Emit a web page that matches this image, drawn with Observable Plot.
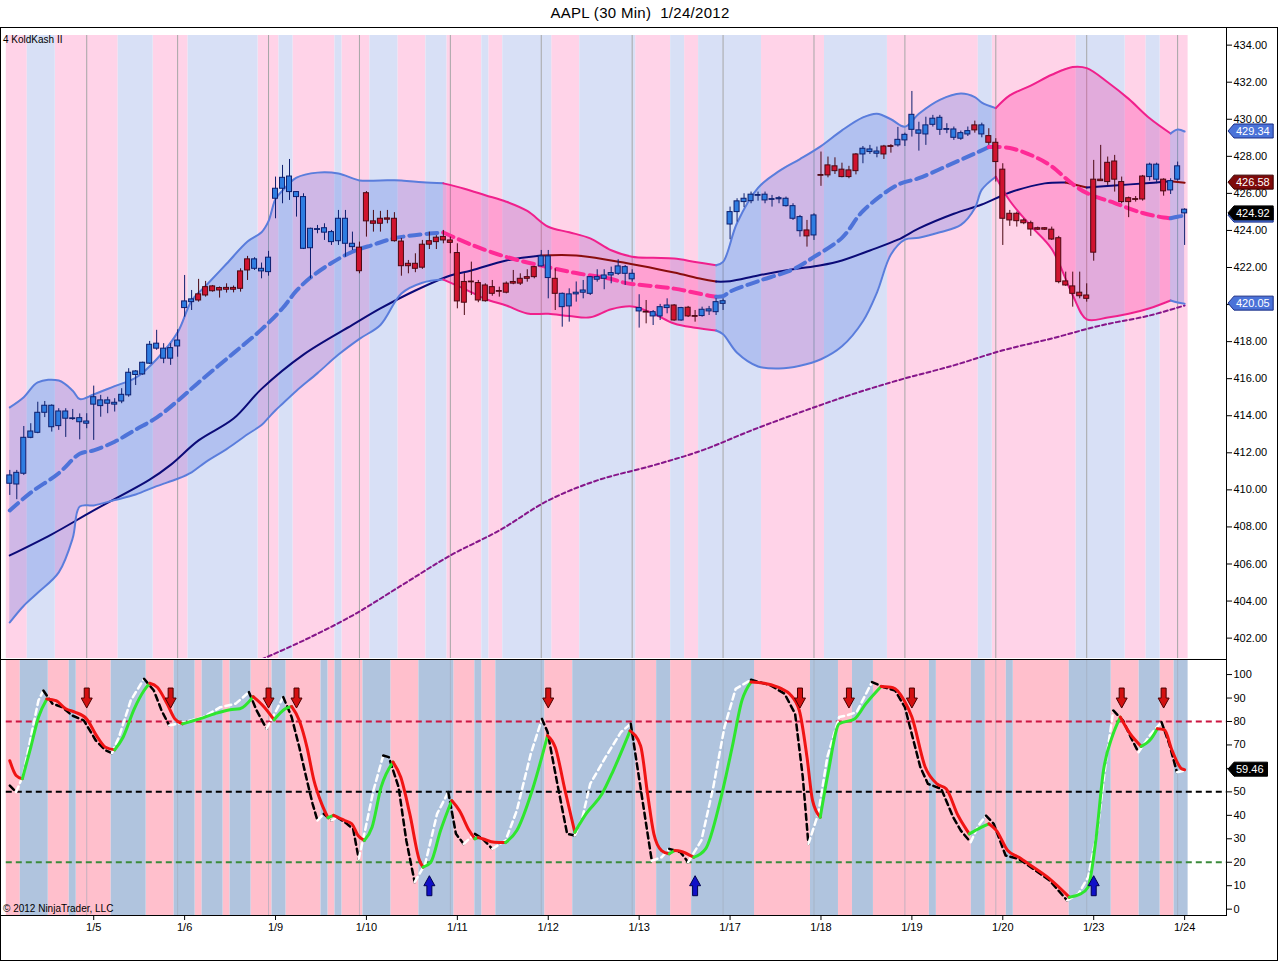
<!DOCTYPE html>
<html>
<head>
<meta charset="utf-8">
<script src="https://cdn.jsdelivr.net/npm/d3@7"></script>
<script src="https://cdn.jsdelivr.net/npm/@observablehq/plot@0.6"></script>
<style>
  html, body { margin: 0; padding: 0; background: #fff; }
  #chart { position: relative; width: 1280px; height: 961px; background: #fff; overflow: hidden;
           font-family: 'Liberation Sans', Arial, Helvetica, sans-serif; }
  .abs { position: absolute; }
  .line { position: absolute; background: #000; pointer-events: none; }
</style>
</head>
<body>
<div id="chart">
  <div class="abs" id="title" style="top:4px;left:0;width:1280px;text-align:center;font-size:15px;letter-spacing:0.3px;white-space:pre;color:#000">AAPL (30 Min)  1/24/2012</div>
  <div class="abs" id="upper" style="left:0;top:27px"></div>
  <div class="abs" id="lower" style="left:0;top:659px"></div>
  <div class="abs" style="left:0;top:27px;width:1278px;height:934px;border:1px solid #000;box-sizing:border-box;pointer-events:none"></div>
  <div class="line" style="left:1226px;top:27px;width:1px;height:889px"></div>
  <div class="line" style="left:0;top:659px;width:1227px;height:1px"></div>
  <div class="line" style="left:0;top:915px;width:1227px;height:1px"></div>
  <div class="abs" style="left:3px;top:34px;font-size:10px;color:#000">4 KoldKash II</div>
  <div class="abs" style="left:3px;top:903px;font-size:10px;color:#000">© 2012 NinjaTrader, LLC</div>
</div>
<script>
const FONT = "'Liberation Sans', Arial, Helvetica, sans-serif";

// ---------- price bars (30 min, bar 0 = first visible bar of 1/4) ----------
const open = [410.33,410.29,410.87,412.81,413.08,414.16,413.38,413.44,413.84,413.82,
413.65,413.57,414.60,414.52,414.65,414.60,414.77,415.10,416.20,416.23,
416.81,417.62,417.08,417.08,417.74,419.81,420.13,420.55,420.94,420.98,
420.89,420.90,420.90,421.79,422.44,421.93,421.79,421.75,425.71,426.25,
426.07,425.80,423.01,423.04,424.03,423.88,423.37,423.42,423.28,423.10,
423.07,426.01,424.49,424.63,424.65,424.63,423.40,422.20,422.20,423.23,
423.42,423.61,423.65,423.46,422.78,421.22,421.24,421.16,421.03,420.94,
420.73,421.13,421.22,421.39,421.48,422.02,422.06,421.43,421.39,419.86,
419.90,420.55,420.64,420.58,421.34,421.39,421.57,421.66,421.66,421.36,
419.63,419.61,419.36,419.36,419.81,419.95,419.14,419.83,419.38,419.38,
419.63,419.59,420.04,424.32,424.99,425.53,425.58,425.87,425.62,425.65,
425.68,425.31,424.63,423.96,424.00,423.73,426.99,427.51,427.46,427.28,
427.24,428.10,428.10,428.23,428.14,428.53,428.55,428.59,428.86,429.43,
429.22,429.18,429.70,429.43,429.43,429.00,428.95,429.18,429.67,429.18,
429.09,428.73,427.28,424.90,424.90,424.54,424.39,424.12,424.12,424.04,
423.58,421.25,420.98,420.64,420.49,426.74,426.74,427.65,427.72,426.61,
425.74,425.69,426.91,426.88,426.74,426.74,426.16,426.74,425.12];
const high = [411.05,411.05,413.42,413.57,414.73,414.77,414.59,414.38,414.38,414.34,
414.10,414.11,415.60,415.10,415.00,414.92,415.46,416.54,416.44,416.89,
418.01,418.61,417.89,417.89,418.64,421.57,420.76,421.36,421.25,421.03,
420.95,421.12,421.00,421.93,422.60,422.53,422.24,422.87,426.88,427.51,
427.83,426.10,425.98,424.12,424.27,424.36,424.00,425.08,425.08,423.91,
423.37,426.10,425.08,425.03,425.08,424.96,423.57,422.38,422.74,423.46,
423.91,423.72,424.00,423.64,423.28,421.67,422.29,421.30,421.12,421.30,
420.94,421.22,421.84,421.66,421.88,422.06,422.92,422.92,421.93,420.62,
420.85,421.22,421.30,421.52,421.88,421.88,422.02,422.42,422.11,421.88,
420.53,420.22,419.68,420.01,420.31,420.00,419.85,419.90,419.68,419.86,
419.90,420.31,420.31,425.26,425.71,425.98,426.07,426.07,426.07,425.89,
425.83,425.80,425.44,424.81,424.54,424.90,428.23,427.96,427.92,427.63,
427.46,428.15,428.53,428.59,428.50,428.59,428.63,429.56,429.25,431.50,
429.84,430.11,430.21,430.21,429.76,429.58,429.36,429.58,429.90,429.79,
429.49,428.95,427.60,425.08,424.99,424.63,424.50,424.18,424.15,424.18,
423.68,421.75,421.75,421.75,421.12,427.78,428.59,427.96,428.05,426.88,
425.80,425.83,426.97,427.63,427.63,426.79,426.79,427.69,425.17];
const low = [409.70,409.47,410.78,412.76,413.03,413.90,413.12,413.21,412.83,413.75,
412.70,413.30,412.67,413.92,414.11,414.20,414.65,415.00,415.63,416.18,
416.77,417.53,416.81,416.72,417.16,419.32,419.68,420.13,420.40,420.67,
420.35,420.62,420.63,420.67,421.30,421.84,421.39,421.53,424.63,425.44,
425.62,424.72,422.97,421.39,423.82,423.46,423.19,423.19,422.56,422.92,
421.66,423.64,423.91,423.91,424.36,423.37,421.53,421.66,421.72,421.90,
422.97,422.97,423.28,422.74,419.77,419.41,420.49,420.10,420.13,420.45,
420.40,420.58,421.07,421.03,421.21,421.39,422.02,420.31,419.68,418.78,
419.05,420.13,420.31,420.49,421.21,420.80,421.12,421.57,421.03,421.21,
418.73,418.96,418.87,419.14,419.50,419.10,419.10,419.30,419.05,419.32,
419.41,419.41,419.68,423.50,424.45,425.23,425.44,425.58,425.44,425.26,
425.44,425.26,424.54,423.64,423.10,423.46,426.38,426.84,427.02,426.84,
426.79,427.00,427.60,428.10,427.92,427.83,428.17,428.50,428.53,429.04,
428.28,428.59,429.58,429.13,429.22,428.86,428.86,429.07,429.25,429.00,
428.59,426.61,423.19,424.22,424.18,424.31,423.68,424.00,424.00,423.46,
421.12,420.98,419.86,420.31,420.13,422.34,426.66,426.43,426.07,425.44,
424.69,425.53,425.58,426.66,426.52,425.85,425.94,426.66,423.19];
const close = [410.78,410.92,412.81,413.15,414.16,414.54,414.54,414.23,414.23,413.86,
413.87,413.69,415.00,414.83,414.83,414.70,415.13,416.32,416.39,416.86,
417.83,417.89,417.62,417.65,418.06,420.17,420.28,420.22,420.49,420.72,
420.76,420.80,420.80,420.85,421.84,422.44,421.93,422.53,426.25,426.84,
426.91,426.07,425.80,424.09,424.07,424.12,423.91,424.63,424.63,423.28,
421.80,424.49,424.36,424.36,424.58,423.42,422.07,422.07,421.93,421.99,
423.23,423.37,423.46,423.33,420.17,420.10,421.20,420.22,420.18,420.58,
420.69,420.64,421.13,421.13,421.39,421.48,422.60,422.60,420.58,420.58,
420.55,420.64,420.76,421.48,421.48,421.57,421.70,422.06,422.02,421.66,
419.81,419.57,419.59,419.86,419.95,419.14,419.81,419.36,419.34,419.72,
419.74,420.13,420.18,424.99,425.57,425.71,425.93,425.91,425.93,425.69,
425.74,425.71,425.31,424.72,423.68,424.81,426.95,426.97,427.20,426.88,
426.88,427.20,428.41,428.37,428.26,428.10,428.51,428.89,429.16,430.24,
429.40,429.67,430.03,430.08,429.47,429.45,429.25,429.36,429.40,429.67,
428.73,427.69,424.63,424.54,424.50,424.39,424.05,424.04,424.04,423.51,
421.21,421.03,420.58,420.45,420.31,422.80,426.66,426.61,426.74,425.53,
425.53,425.65,425.67,427.55,427.55,426.11,426.66,427.46,424.92];
// candle colouring runs (length, state)
const candleColorRuns = [[27,"up"],[8,"down"],[15,"up"],[26,"down"],[2,"up"],[1,"down"],[12,"up"],[1,"down"],
[3,"up"],[1,"down"],[1,"up"],[2,"down"],[15,"up"],[1,"down"],[1,"up"],[6,"down"],[3,"up"],[2,"down"],
[11,"up"],[1,"down"],[1,"up"],[23,"down"],[2,"up"],[1,"down"],[3,"up"]];

// ---------- sessions / x labels ----------
const dayLabels = ["1/5","1/6","1/9","1/10","1/11","1/12","1/13","1/17","1/18","1/19","1/20","1/23","1/24"];
const dayFirstBars = [12,25,38,51,64,77,90,103,116,129,142,155,168];

// ---------- background colouring (run lengths, alternating starting with pink) ----------
const upperStripeRuns = [3,4,9,5,5,10,3,2,6,1,4,4,4,3,5,1,2,7,4,8,5,2,2,9,9,9,13,2,12,7,3,2,4];
const lowerStripeRuns = [2,4,3,1,5,5,4,3,1,3,1,3,3,2,5,1,1,1,3,4,4,5,3,1,2,7,4,9,3,2,3,9,8,4,2,3,8,1,5,2,3,1,8,6,4,3,2,2];

// ---------- Bollinger bands ----------
const bandBars = [0,2,4,7,9,10,12,15,18,21,24,26,28,31,34,36,37,38,39,41,44,47,50,53,56,59,62,65,68,71,
74,77,80,83,86,89,92,95,98,101,102,104,107,110,113,116,119,122,124,126,128,130,133,136,138,139,141,143,146,149,
152,154,157,160,163,166,167,168];
const upperBand = [414.45,415.0,415.8,415.9,415.35,414.9,415.15,415.6,416.05,417.05,418.5,420.2,421.0,422.2,423.4,423.9,424.5,425.7,426.15,426.85,
427.12,427.07,426.7,426.7,426.7,426.6,426.54,426.25,425.9,425.55,425.05,424.2,423.9,423.57,422.93,422.58,422.52,422.48,422.3,422.12,
422.3,424.4,426.3,427.2,427.85,428.55,429.4,430.1,430.3,430.0,429.6,430.3,431.05,431.39,431.2,430.9,430.6,431.29,431.82,432.4,
432.82,432.76,432.0,431.1,430.05,429.23,429.45,429.34];
const lowerBand = [402.85,403.75,404.45,405.55,407.4,409.1,409.16,409.45,409.75,410.2,410.6,410.95,411.5,412.2,413.0,413.5,413.9,414.3,414.65,415.35,
416.3,417.3,418.15,418.9,420.6,421.18,421.35,420.85,420.3,419.95,419.52,419.5,419.38,419.31,419.75,419.9,419.52,418.98,418.75,418.6,
418.4,417.4,416.66,416.55,416.7,417.05,417.75,419.1,420.65,422.7,423.5,423.6,423.9,424.3,425.2,426.2,426.9,425.6,424.25,423.0,
420.5,419.2,419.3,419.5,419.8,420.22,420.11,420.05];
const midBars = [0,3,7,10,12,15,18,21,24,27,32,36,39,41,43,46,49,52,55,60,62,66,71,76,81,86,88,95,100,101,
102,103,107,112,115,119,122,127,130,134,138,140,143,147,149,152,154,158,162,165,166,167,168];
const midBand = [408.89,409.85,410.9,411.95,412.13,412.6,413.25,413.9,414.8,415.8,417.38,418.66,419.8,420.75,421.46,422.24,422.85,423.23,423.58,423.83,
423.89,423.23,422.57,422.1,421.7,421.38,421.17,420.86,420.48,420.42,420.45,420.7,421.26,421.9,422.57,423.6,425.05,426.47,426.82,427.48,
428.15,428.5,428.45,427.9,427.45,426.5,426.02,425.48,424.94,424.70,424.66,424.74,424.80];
// band trend: segments ending at or before each bar take the listed direction
const trendEndBars = [62, 101, 141, 166, 168];
const trendDirs = ["up", "down", "up", "down", "up"];

// ---------- moving averages ----------
const smaBars = [0,6,12,20,23,27,32,36,42,49,53,58,63,66,71,76,81,86,90,95,99,101,103,107,112,116,119,123,127,130,135,139,143,148,151,154,158,163,166,168];
const sma = [406.46,407.6,408.89,410.55,411.35,412.67,413.85,415.45,417.3,418.9,419.79,420.76,421.57,421.84,422.38,422.65,422.65,422.38,422.11,421.73,
421.38,421.24,421.26,421.57,421.9,422.12,422.38,422.92,423.5,424.11,424.9,425.4,426.05,426.54,426.59,426.32,426.43,426.56,426.66,426.58];
const sma200Bars = [36,42,49,56,63,70,77,84,92,99,106,113,120,127,135,142,149,156,163,168];
const sma200 = [400.85,401.87,403.22,404.84,406.46,407.81,409.43,410.51,411.32,412.13,413.20,414.18,415.10,415.91,416.72,417.53,418.17,418.87,419.41,419.95];

// ---------- oscillator ----------
const kBars = [0,0.9,1.8,3.0,4.1,5.3,6.6,8.0,9.3,11.0,12.4,13.7,15.0,16.2,17.8,19.2,20.0,21.1,22.5,23.6,
24.7,27.1,29.3,31.5,32.9,34.8,36.4,37.8,39.4,40.3,41.4,42.5,43.5,44.6,45.5,46.3,47.0,47.9,48.9,49.8,
50.7,51.8,53.1,54.8,55.9,57.2,58.6,59.1,60.2,61.6,63.2,64.3,65.7,66.5,67.0,67.6,69.3,70.9,72.5,74.7,
76.9,78.0,79.4,80.8,82.4,84.7,86.3,88.7,90.2,91.2,92.1,93.2,94.3,95.1,95.9,97.8,99.5,101.6,103.3,104.7,
106.0,108.2,110.4,111.5,112.9,114.0,114.8,115.9,117.0,118.6,120.8,122.4,124.6,126.3,127.9,129.0,130.9,132.6,133.9,135.6,
137.2,138.9,140.0,141.1,142.7,144.3,146.0,148.7,151.5,153.1,154.2,155.3,156.4,157.7,158.8,160.2,161.8,163.2,164.1,165.1,
166.2,167.6,168];
const kVals = [63.3,57.0,55.6,69.0,81.8,89.6,88.9,85.4,84.0,81.1,74.0,69.0,67.9,73.3,85.4,93.2,96.3,94.6,87.5,81.1,
79.0,81.1,83.3,85.0,85.4,90.6,86.1,80.7,85.4,86.4,80.4,69.0,54.8,44.9,39.0,40.0,39.0,37.8,36.4,31.4,
29.3,34.9,52.0,62.7,56.3,40.6,20.7,17.9,20.0,33.5,46.3,42.0,33.5,30.0,30.5,30.0,28.5,28.4,33.5,50.6,
74.0,69.0,50.6,32.8,40.6,49.2,59.1,76.0,69.7,49.2,32.1,25.0,23.6,25.0,24.7,22.1,25.7,46.3,69.0,89.0,
96.8,96.1,93.9,91.8,84.7,64.8,46.3,39.2,57.7,79.0,81.1,87.5,94.9,94.4,89.0,81.9,60.6,53.4,51.3,39.9,
32.1,34.9,36.4,33.5,25.0,22.1,18.6,12.9,5.1,6.5,9.4,29.3,59.1,74.0,81.9,74.8,69.4,72.6,76.9,76.5,
67.7,59.8,59.46];
const dBars = [0,0.9,1.9,3.0,4.1,4.8,6.1,7.5,8.9,10.6,12.3,13.7,14.6,15.6,17.3,19.2,20.6,21.7,22.8,25.0,
27.7,30.1,32.3,34.2,35.3,36.7,38.1,39.1,40.3,41.4,42.5,43.3,44.0,44.9,46.0,46.8,48.2,49.1,49.9,50.9,
52.0,53.4,54.2,55.6,56.7,57.9,59.4,61.1,62.7,63.8,64.9,66.5,67.6,69.0,70.9,72.5,74.5,76.1,76.9,78.3,
79.7,80.8,81.9,83.0,85.2,87.4,88.8,89.6,90.7,91.8,93.2,94.3,95.9,97.0,98.9,100.6,102.2,103.8,106.0,108.8,
110.8,112.3,113.4,114.2,115.6,116.9,118.6,119.7,121.1,123.3,125.0,126.6,128.0,129.1,130.2,131.3,133.2,134.9,136.0,137.4,
138.5,139.6,140.7,142.4,144.3,146.0,148.7,151.2,152.8,154.2,155.6,156.7,157.8,159.2,160.3,161.4,163.0,164.7,165.8,166.9,168];
const dVals = [52.7,49.9,57.0,73.3,89.0,93.2,87.6,86.1,82.6,80.4,71.9,67.7,66.5,73.3,89.0,98.2,93.2,84.7,78.3,79.7,
81.9,86.1,87.6,92.5,84.7,76.9,84.7,90.4,81.9,69.0,54.8,44.9,37.8,40.6,37.8,39.2,36.4,34.2,21.4,34.9,
50.6,65.5,64.8,52.0,29.3,11.5,19.3,40.6,49.9,32.1,27.8,32.1,30.0,25.7,29.3,42.0,66.2,81.1,75.5,53.4,
32.1,31.4,39.2,53.4,64.8,75.5,79.0,63.4,42.0,20.7,22.1,25.7,24.3,20.0,29.3,52.0,77.6,93.9,97.8,95.4,
91.8,83.3,56.3,27.8,40.6,64.8,81.9,82.6,84.0,96.8,94.6,93.2,86.1,73.3,60.6,53.4,51.3,39.2,33.5,28.5,
35.6,39.9,36.4,22.9,21.4,17.9,12.2,3.7,6.5,13.6,34.9,61.9,84.7,80.4,73.3,66.9,74.0,79.7,70.5,58.4,59.0];
const oscLevels = [80, 50, 20];
const sellArrowBars = [11,23,37,41,77,113,120,129,159,165];
const buyArrowBars = [60,98,155];
const sellArrowLevel = 90;
const buyArrowLevel = 10;
const priceTicks = d3.range(402, 435, 2);
const oscTicks = d3.range(0, 101, 10);

// ---------- colours ----------
const C = {
  upPink: "#ffd3e8", upLav: "#d8e0f6",
  loPink: "#ffbfcc", loBlue: "#b0c4de",
  grid: "#a6a6a6",
  bandBlue: "#5a7ddc", bandPink: "#f0208c",
  fillBlue: "rgba(70,105,225,0.26)", fillPink: "rgba(255,20,147,0.26)",
  midBlue: "#4e73d9", midPink: "#ff2a96",
  navy: "#0b0b78", maroon: "#8a0d0d", purple: "#86168a",
  candleUp: "#2f7de1", candleUpLine: "#0d1f6e", candleDn: "#d0142f", candleDnLine: "#4a0812",
  kUp: "#2ee62e", kDn: "#f01414"
};

// ---------- helpers ----------
const X_DOMAIN = [-0.5, 173.99];
function trendOf(bar) { for (let k = 0; k < trendEndBars.length; k++) if (bar <= trendEndBars[k]) return trendDirs[k]; return trendDirs[trendDirs.length - 1]; }
function runsBy(bars, colorAt, rowAt) {
  const runs = [];
  for (let k = 1; k < bars.length; k++) {
    const c = colorAt(k);
    const last = runs[runs.length - 1];
    if (last && last.c === c) last.rows.push(rowAt(k));
    else runs.push({c, rows: [rowAt(k - 1), rowAt(k)]});
  }
  return runs;
}
function stripes(lengths, a, b) {
  const rows = []; let s = 0;
  lengths.forEach((n, k) => { rows.push({x1: s - 0.5, x2: s + n - 0.5, fill: k % 2 ? b : a}); s += n; });
  return rows;
}
const candleDir = [];
candleColorRuns.forEach(([n, d]) => { for (let k = 0; k < n; k++) candleDir.push(d); });
const bars = open.map((o, k) => ({i: k, open: o, high: high[k], low: low[k], close: close[k], dir: candleDir[k]}));
const breakBars = dayFirstBars.map(b => b - 1);

function tagMark(tags) {
  return (index, scales, values, dimensions) => {
    const g = d3.create("svg:g").attr("font-family", FONT).attr("font-size", 11).attr("text-anchor", "start");
    const x0 = dimensions.width - dimensions.marginRight;
    for (const t of tags) {
      const y = scales.y(t.value);
      const label = t.value.toFixed(2);
      const w = label.length * 5.7 + 5;
      g.append("path")
        .attr("d", `M${x0 + 2},${y} L${x0 + 8},${y - 7} H${x0 + 8 + w} V${y + 7} H${x0 + 8} Z`)
        .attr("fill", t.fill).attr("stroke", t.stroke).attr("stroke-width", 1);
      g.append("text").attr("x", x0 + 10).attr("y", y).attr("dy", "0.36em")
        .attr("text-anchor", "start").attr("fill", "#fff").text(label);
    }
    return g.node();
  };
}
// a tick label that sits right under a value tag is hidden by it in the original
function hiddenBy(tagValues, tol) { return v => tagValues.some(t => Math.abs(t - v) < tol); }

// ---------- upper panel ----------
const upStripes = stripes(upperStripeRuns, C.upPink, C.upLav);
const bandRuns = runsBy(bandBars, k => trendOf(bandBars[k]), k => ({i: bandBars[k], lo: lowerBand[k], hi: upperBand[k]}));
const midRuns = runsBy(midBars, k => trendOf(midBars[k]), k => ({i: midBars[k], v: midBand[k]}));
const smaRuns = runsBy(smaBars, k => sma[k] > sma[k - 1] ? "up" : "down", k => ({i: smaBars[k], v: sma[k]}));
const sma200Rows = sma200Bars.map((b, k) => ({i: b, v: sma200[k]}));
const upperTags = [
  {value: upperBand[upperBand.length - 1], fill: "#4a72d8", stroke: "#1b2f86"},
  {value: sma[sma.length - 1], fill: "#7e0a0a", stroke: "#3a0000"},
  {value: midBand[midBand.length - 1], fill: "#4a72d8", stroke: "#1b2f86"},
  {value: close[close.length - 1], fill: "#000", stroke: "#000"},
  {value: lowerBand[lowerBand.length - 1], fill: "#4a72d8", stroke: "#1b2f86"}
];
const upperHidden = hiddenBy(upperTags.map(t => t.value), 0.4);

const upper = Plot.plot({
  width: 1280, height: 632,
  marginTop: 8, marginBottom: 1, marginLeft: 5.8, marginRight: 54,
  x: {domain: X_DOMAIN, axis: null},
  y: {domain: [400.9, 434.52], label: null},
  style: {fontFamily: FONT, fontSize: "11px", background: "transparent", overflow: "visible", color: "#000"},
  marks: [
    Plot.rect(upStripes.filter(d => d.fill === C.upPink), {x1: "x1", x2: "x2", fill: C.upPink}),
    Plot.rect(upStripes.filter(d => d.fill === C.upLav), {x1: "x1", x2: "x2", fill: C.upLav}),
    Plot.ruleX(breakBars, {stroke: C.grid, strokeWidth: 1}),
    bandRuns.map(r => Plot.areaY(r.rows, {x: "i", y1: "lo", y2: "hi", fill: r.c === "up" ? C.fillBlue : C.fillPink, curve: "catmull-rom"})),
    Plot.line(sma200Rows, {x: "i", y: "v", stroke: C.purple, strokeWidth: 2, strokeDasharray: "4,3", curve: "catmull-rom", clip: true}),
    smaRuns.map(r => Plot.line(r.rows, {x: "i", y: "v", stroke: r.c === "up" ? C.navy : C.maroon, strokeWidth: 2, curve: "catmull-rom"})),
    bandRuns.map(r => Plot.line(r.rows, {x: "i", y: "hi", stroke: r.c === "up" ? C.bandBlue : C.bandPink, strokeWidth: 2, curve: "catmull-rom"})),
    bandRuns.map(r => Plot.line(r.rows, {x: "i", y: "lo", stroke: r.c === "up" ? C.bandBlue : C.bandPink, strokeWidth: 2, curve: "catmull-rom"})),
    midRuns.map(r => Plot.line(r.rows, {x: "i", y: "v", stroke: r.c === "up" ? C.midBlue : C.midPink, strokeWidth: 4, strokeDasharray: "11,6", curve: "catmull-rom"})),
    Plot.ruleX(bars.filter(d => d.dir === "up"), {x: "i", y1: "low", y2: "high", stroke: C.candleUpLine, strokeWidth: 1}),
    Plot.ruleX(bars.filter(d => d.dir === "down"), {x: "i", y1: "low", y2: "high", stroke: C.candleDnLine, strokeWidth: 1}),
    Plot.rect(bars.filter(d => d.dir === "up"), {x1: d => d.i - 0.36, x2: d => d.i + 0.36, y1: "open", y2: "close", fill: C.candleUp, stroke: C.candleUpLine, strokeWidth: 1}),
    Plot.rect(bars.filter(d => d.dir === "down"), {x1: d => d.i - 0.36, x2: d => d.i + 0.36, y1: "open", y2: "close", fill: C.candleDn, stroke: C.candleDnLine, strokeWidth: 1}),
    Plot.axisY(priceTicks, {anchor: "right", tickSize: 5, tickPadding: 2, label: null, fontSize: 11,
      tickFormat: d => upperHidden(d) ? "" : d.toFixed(2)}),
    tagMark(upperTags)
  ]
});
document.getElementById("upper").appendChild(upper);

// ---------- lower panel ----------
const loStripes = stripes(lowerStripeRuns, C.loPink, C.loBlue);
const kRuns = runsBy(kBars, k => kVals[k] >= kVals[k - 1] ? "up" : "down", k => ({i: kBars[k], v: kVals[k]}));
const dRuns = runsBy(dBars, k => dVals[k] >= dVals[k - 1] ? "up" : "down", k => ({i: dBars[k], v: dVals[k]}));
const levelColors = ["#cc1440", "#000", "#3a8a3a"];
const lowerTags = [{value: kVals[kVals.length - 1], fill: "#000", stroke: "#000"}];
const lowerHidden = hiddenBy(lowerTags.map(t => t.value), 3);

const arrowDown = {draw(ctx, size) {
  const s = Math.sqrt(size / Math.PI) / 10;
  ctx.moveTo(-2.5 * s, -10 * s); ctx.lineTo(2.5 * s, -10 * s); ctx.lineTo(2.5 * s, 0);
  ctx.lineTo(5.5 * s, 0); ctx.lineTo(0, 10 * s); ctx.lineTo(-5.5 * s, 0); ctx.lineTo(-2.5 * s, 0); ctx.closePath();
}};
const arrowUp = {draw(ctx, size) {
  const s = Math.sqrt(size / Math.PI) / 10;
  ctx.moveTo(-2.5 * s, 10 * s); ctx.lineTo(2.5 * s, 10 * s); ctx.lineTo(2.5 * s, 0);
  ctx.lineTo(5.5 * s, 0); ctx.lineTo(0, -10 * s); ctx.lineTo(-5.5 * s, 0); ctx.lineTo(-2.5 * s, 0); ctx.closePath();
}};

const lower = Plot.plot({
  width: 1280, height: 302,
  marginTop: 1, marginBottom: 46, marginLeft: 5.8, marginRight: 54,
  x: {domain: X_DOMAIN, label: null},
  y: {domain: [-2.7, 106.0], label: null},
  style: {fontFamily: FONT, fontSize: "11px", background: "transparent", overflow: "visible", color: "#000"},
  marks: [
    Plot.rect(loStripes.filter(d => d.fill === C.loPink), {x1: "x1", x2: "x2", fill: C.loPink}),
    Plot.rect(loStripes.filter(d => d.fill === C.loBlue), {x1: "x1", x2: "x2", fill: C.loBlue}),
    Plot.ruleX(breakBars, {stroke: "#a0a8b8", strokeWidth: 1, strokeOpacity: 0.6}),
    oscLevels.map((lv, k) => Plot.ruleY([lv], {x1: X_DOMAIN[0], x2: X_DOMAIN[1], stroke: levelColors[k], strokeWidth: 2, strokeDasharray: "6,4"})),
    dRuns.map(r => Plot.line(r.rows, {x: "i", y: "v", stroke: r.c === "up" ? "#ffffff" : "#000000", strokeWidth: 2.5, strokeDasharray: "6,4"})),
    kRuns.map(r => Plot.line(r.rows, {x: "i", y: "v", stroke: r.c === "up" ? C.kUp : C.kDn, strokeWidth: 3, curve: "monotone-x", strokeLinejoin: "round"})),
    Plot.dot(sellArrowBars, {x: d => d, y: () => sellArrowLevel, symbol: arrowDown, r: 10, fill: "#d41010", stroke: "#4a0000", strokeWidth: 1}),
    Plot.dot(buyArrowBars, {x: d => d, y: () => buyArrowLevel, symbol: arrowUp, r: 10, fill: "#1010c8", stroke: "#000050", strokeWidth: 1}),
    Plot.axisY(oscTicks, {anchor: "right", tickSize: 5, tickPadding: 2, label: null, fontSize: 11,
      tickFormat: d => lowerHidden(d) ? "" : String(d)}),
    Plot.axisX(dayFirstBars, {anchor: "bottom", tickSize: 5, tickPadding: 3, label: null, fontSize: 11,
      tickFormat: d => dayLabels[dayFirstBars.indexOf(d)]}),
    tagMark(lowerTags)
  ]
});
document.getElementById("lower").appendChild(lower);
</script>
</body>
</html>
